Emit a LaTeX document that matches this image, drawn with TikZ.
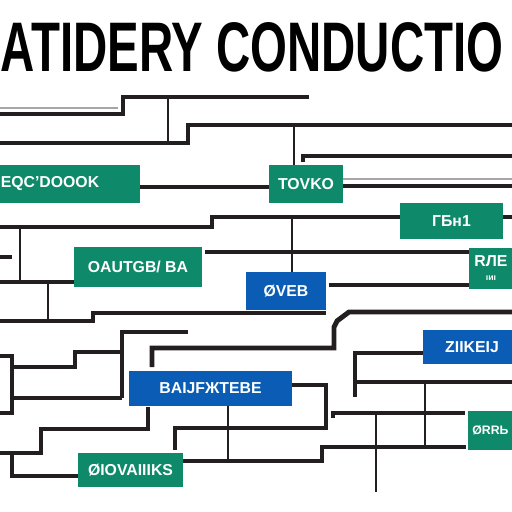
\documentclass[tikz,border=0pt]{standalone}
\usepackage{fontspec}
\setmainfont{Liberation Sans}
\usepackage{graphicx}
\usetikzlibrary{positioning,calc}
\definecolor{boxgreen}{RGB}{14,138,106}
\definecolor{boxblue}{RGB}{10,92,180}
\definecolor{ink}{RGB}{35,31,32}
\tikzset{
gblock/.style = {fill=boxgreen, text=white, rectangle, inner sep=0pt, font=\bfseries\fontsize{9}{9}\selectfont},
bblock/.style = {gblock, fill=boxblue},
wire/.style = {draw=ink, line width=2.8pt},
tap/.style  = {draw=ink, line width=1.1pt},
ghost/.style = {draw=ink!40, line width=0.8pt}
}

\begin{document}
\begin{tikzpicture}[x=0.02cm,y=-0.02cm]
    \useasboundingbox[fill=white] (0,0) rectangle (512,512);
    \node [anchor=west, inner sep=0pt] (title) at (0,47.5) {\resizebox{10.06cm}{0.98cm}{\bfseries ATIDERY CONDUCTIO}};
    % boxes
    \node [gblock, minimum width=3.6cm, minimum height=0.76cm] (eqc) at (50,184) {EQC'DOOOK};
    \node [gblock, minimum width=1.48cm, minimum height=0.76cm] (tovko) at (306,184) {TOVKO};
    \node [gblock, minimum width=2.06cm, minimum height=0.72cm] (gbn) at (451.5,221) {ГБн1};
    \node [gblock, minimum width=2.56cm, minimum height=0.8cm] (aut) at (138,267) {OAUTGB/ BA};
    \node [gblock, minimum width=0.88cm, minimum height=0.82cm, align=center] (rle) at (491,268.5) {RЛE\\[-1pt]{\tiny ıиı}};
    \node [bblock, minimum width=1.6cm, minimum height=0.76cm] (oveb) at (286,291) {ØVEB};
    \node [bblock, minimum width=1.96cm, minimum height=0.68cm] (zik) at (472,347) {ZIIKEIJ};
    \node [bblock, minimum width=3.26cm, minimum height=0.7cm] (baj) at (210.5,388.5) {BAIJFЖTEBE};
    \node [gblock, minimum width=2.1cm, minimum height=0.68cm] (oio) at (130.5,470) {ØIOVAIIIKS};
    \node [gblock, minimum width=0.9cm, minimum height=0.78cm, font=\bfseries\fontsize{7}{7}\selectfont] (orr) at (490.5,430.5) {ØRRЬ};
    % upper wires
    \draw [wire] (0,114) -| (123,97) -- (309,97);
    \draw [ghost] (0,108) -- (118,108);
    \draw [wire] (0,143) -| (188,125) -- (512,125);
    \draw [tap] (168,97) -- (168,143);
    \draw [tap] (294,125) -- (294,0 |- tovko.north);
    \draw [wire] (303,162) -- (303,156) -- (512,156);
    \draw [wire] (eqc.east |- 0,187) -- (tovko.west |- 0,187);
    \draw [ghost] (tovko.east |- 0,179) -- (512,179);
    \draw [wire] (tovko.east |- 0,186) -- (512,186);
    \draw [wire] (0,227) -| (212,217) -- (gbn.west |- 0,217);
    \draw [wire] (gbn.east |- 0,217) -- (512,217);
    \draw [tap] (292,217) -- (292,0 |- oveb.north);
    \draw [tap] (20,227) -- (20,282);
    \draw [wire] (0,282) -- (aut.west |- 0,282);
    \draw [wire] (0,257) -- (12,257);
    \draw [wire] (205,252) -- (rle.west |- 0,252);
    \draw [wire] (329,285) -- (rle.west |- 0,285);
    % middle wires
    \draw [tap] (48,283) -- (48,321);
    \draw [wire] (0,321) -| (93,313) -- (326,313);
    \draw [wire] (512,312) -- (349,312) -- (337,321) -- (334,327) |- (152,348) -- (152,367);
    \draw [wire] (188,332) -- (122,332) -- (122,398);
    \draw [wire] (12,367) -| (75,352) -- (122,352);
    \draw [wire] (0,356) -| (12,413) -- (0,413);
    \draw [wire] (12,398) -- (122,398);
    % lower wires
    \draw [wire] (148,407) |- (41,429) |- (0,453);
    \draw [wire] (12,453) |- (oio.west |- 0,476);
    \draw [tap] (228,0 |- baj.south) -- (228,461);
    \draw [wire] (oio.east |- 0,461) -| (322,447) -- (466,447);
    \draw [wire] (175,450) |- (326,428) |- (baj.east |- 0,385);
    \draw [wire] (333,418) -- (333,413) -- (465,413);
    \draw [tap] (376,413) -- (376,492);
    \draw [tap] (425,382) -- (425,447);
    \draw [wire] (zik.west |- 0,353) -| (355,397);
    \draw [wire] (355,382) -- (512,382);
\end{tikzpicture}
\end{document}
